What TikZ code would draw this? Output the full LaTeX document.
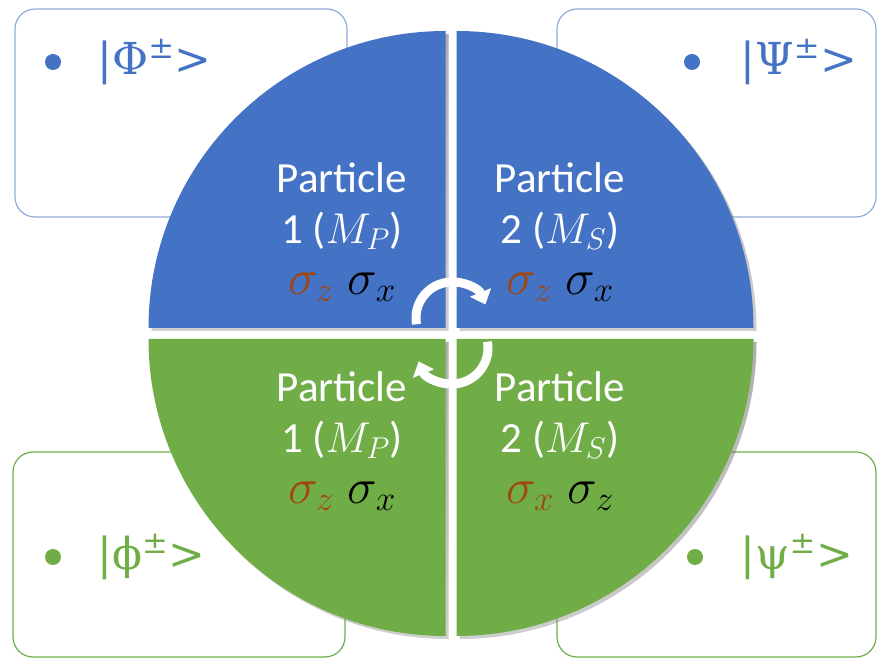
\documentclass[tikz,border=0pt]{standalone}
\usepackage{fix-cm}
\usepackage{fontspec}
\setmainfont{Carlito}
\newfontfamily\statefont{DejaVu Serif}
\usepackage{tikz}
\usetikzlibrary{arrows.meta,positioning}
\definecolor{quadblue}{HTML}{4472C4}
\definecolor{quadgreen}{HTML}{70AD47}
\definecolor{edgeblue}{HTML}{8FAADC}
\definecolor{sigmabrown}{HTML}{A0460F}
\definecolor{shade}{HTML}{3A3A3A}
\newcommand{\sigmapair}[2]{{\fontsize{50}{51}\selectfont
  $\textcolor{sigmabrown}{\sigma_{#1}}\;\textcolor{black}{\sigma_{#2}}$}}
\tikzset{
    every picture/.style={line cap=round,line join=round},
    statebox/.style={draw=#1,fill=white,line width=1.2pt,rounded corners=20pt,
      inner sep=0pt},
    statedot/.style={circle,fill=#1,minimum size=16pt,inner sep=0pt},
    statelabel/.style={text=#1,font=\fontsize{44}{50}\statefont,inner sep=0pt},
    quadtext/.style={text=white,font=\fontsize{43}{51}\selectfont,align=center,
      inner sep=0pt},
    cyclearrow/.style={draw=white,line width=9pt,line cap=butt,
      -{Triangle[width=22pt,length=13pt]}}
}

\begin{document}
\begin{tikzpicture}[x=1pt,y=1pt]
    \useasboundingbox (0,0) rectangle (877,658);
    % corner boxes
    \node[statebox=edgeblue,minimum width=332pt,minimum height=208pt] (phiBox) at (181,545) {};
    \node[statebox=edgeblue,minimum width=319pt,minimum height=208pt] (psiBox) at (716.5,545) {};
    \node[statebox=quadgreen,minimum width=332pt,minimum height=205pt] (phiSmallBox) at (179,103.5) {};
    \node[statebox=quadgreen,minimum width=319pt,minimum height=205pt] (psiSmallBox) at (716.5,103.5) {};
    \node[statedot=quadblue] (phiDot) at (53,596) {};
    \node[statelabel=quadblue,right=36pt of phiDot] (phiState) {|Φ\textsuperscript{±}>};
    \node[statedot=quadblue] (psiDot) at (692,596) {};
    \node[statelabel=quadblue,right=40pt of psiDot] (psiState) {|Ψ\textsuperscript{±}>};
    \node[statedot=quadgreen] (phiSmallDot) at (53,101) {};
    \node[statelabel=quadgreen,right=36pt of phiSmallDot] (phiSmallState) {|ϕ\textsuperscript{±}>};
    \node[statedot=quadgreen] (psiSmallDot) at (695,101) {};
    \node[statelabel=quadgreen,right=37pt of psiSmallDot] (psiSmallState) {|ψ\textsuperscript{±}>};
    % four quadrants of the disc
    \foreach \cx/\cy/\a/\col in {445.5/330/180/quadblue,456.5/330/90/quadblue,
      445.5/319/270/quadgreen,456.5/319/0/quadgreen}{
      \fill[shade,opacity=0.25] (\cx+3,\cy-3) -- ++(\a:297pt)
        arc[start angle=\a,end angle=\a-90,radius=297pt] -- cycle;
      \fill[\col] (\cx,\cy) -- ++(\a:297pt)
        arc[start angle=\a,end angle=\a-90,radius=297pt] -- cycle;
    }
    % particle labels
    \node[quadtext] (upperP1) at (342,426) {Particle\\1 ($M_P$)\\\sigmapair{z}{x}};
    \node[quadtext] (upperP2) at (560,426) {Particle\\2 ($M_S$)\\\sigmapair{z}{x}};
    \node[quadtext] (lowerP1) at (342,217) {Particle\\1 ($M_P$)\\\sigmapair{z}{x}};
    \node[quadtext] (lowerP2) at (560,217) {Particle\\2 ($M_S$)\\\sigmapair{x}{z}};
    % swap arrows
    \coordinate (upperTurn) at (452,340);
    \coordinate (lowerTurn) at (452,310);
    \draw[cyclearrow] (upperTurn) ++(190:36)
      arc[start angle=190,end angle=22,radius=36pt];
    \draw[cyclearrow] (lowerTurn) ++(10:36)
      arc[start angle=10,end angle=-158,radius=36pt];
\end{tikzpicture}
\end{document}
